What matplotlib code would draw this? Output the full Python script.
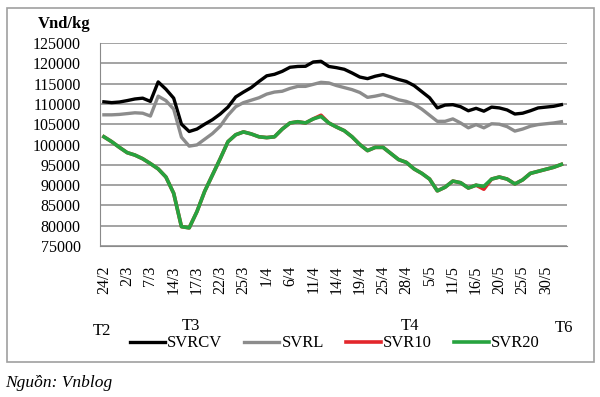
import numpy as np
from matplotlib import pyplot as plt
from matplotlib.patches import Rectangle

plt.rcParams['font.family'] = ['Liberation Serif', 'DejaVu Serif']

# tick labels every third trading day
tick_labels = ['24/2', '2/3', '7/3', '14/3', '17/3', '22/3', '25/3', '1/4', '6/4', '11/4',
               '14/4', '19/4', '25/4', '28/4', '5/5', '11/5', '16/5', '20/5', '25/5', '30/5']

svrcv = [110500, 110300, 110450, 110800, 111200, 111400, 110600, 115400, 113600, 111400,
         105000, 103200, 103800, 105000, 106100, 107500, 109200, 111700, 112900, 114000,
         115500, 116900, 117270, 118000, 119000, 119200, 119240, 120300, 120470, 119200,
         118900, 118500, 117600, 116600, 116200, 116800, 117200, 116600, 116000, 115500,
         114500, 113000, 111500, 109000, 109700, 109800, 109300, 108300, 108900, 108200,
         109200, 109000, 108500, 107500, 107700, 108300, 109000, 109200, 109400, 109800]

svrl = [107300, 107300, 107400, 107600, 107800, 107700, 107000, 111900, 110800, 108700,
        101800, 99600, 99900, 101300, 102700, 104500, 107200, 109300, 110300, 110900,
        111500, 112400, 112900, 113100, 113800, 114300, 114300, 114800, 115300, 115150,
        114500, 114000, 113500, 112800, 111600, 111900, 112300, 111700, 111000, 110600,
        109900, 108700, 107200, 105700, 105700, 106300, 105300, 104100, 104900, 104100,
        105100, 105000, 104400, 103300, 103800, 104500, 104900, 105100, 105300, 105600]

svr20 = [101900, 100700, 99300, 98000, 97400, 96500, 95300, 94000, 92000, 88000,
         79800, 79500, 83500, 88500, 92500, 96500, 100700, 102400, 103100, 102600,
         101900, 101700, 101900, 103800, 105300, 105600, 105300, 106300, 106900, 105300,
         104300, 103400, 101900, 100000, 98500, 99300, 99300, 97800, 96300, 95600,
         94000, 92900, 91500, 88600, 89500, 91000, 90600, 89300, 90000, 89700,
         91500, 92000, 91500, 90300, 91300, 92900, 93400, 93900, 94400, 95100]

svr10 = list(svr20)
svr10[28] = 107200
svr10[49] = 89000

x = np.arange(len(svrcv))

fig = plt.figure(figsize=(6, 3.97), dpi=100)
ax = fig.add_axes([0.1667, 0.380, 0.778, 0.512])

ax.plot(x, svrcv, color='black', lw=2.4, label='SVRCV', zorder=3)
ax.plot(x, svrl, color='#8c8c8c', lw=2.4, label='SVRL', zorder=3)
ax.plot(x, svr10, color='#e3262b', lw=2.6, label='SVR10', zorder=3)
ax.plot(x, svr20, color='#27a33f', lw=2.6, label='SVR20', zorder=4)

ax.set_ylim(75000, 125000)
ax.set_yticks(np.arange(75000, 125001, 5000))
ax.set_xlim(-0.5, len(x) - 0.3)
ax.set_xticks(np.arange(0, 3 * len(tick_labels), 3))
ax.set_xticklabels(tick_labels, rotation=90, fontsize=11.5)
ax.tick_params(axis='y', length=0, pad=14, labelsize=11.5)
ax.tick_params(axis='x', length=0, pad=14)
ax.grid(axis='y', color='#8a8a8a', lw=1.1)
ax.set_axisbelow(True)
for s in ['top', 'right']:
    ax.spines[s].set_visible(False)
ax.spines['left'].set_color('#8a8a8a')
ax.spines['bottom'].set_color('#8a8a8a')

fig.text(0.063, 0.94, 'Vnd/kg', fontsize=12, fontweight='bold', va='center')
fig.text(0.17, 0.165, 'T2', fontsize=12, ha='center', va='center')
fig.text(0.318, 0.178, 'T3', fontsize=12, ha='center', va='center')
fig.text(0.683, 0.178, 'T4', fontsize=12, ha='center', va='center')
fig.text(0.94, 0.175, 'T6', fontsize=12, ha='center', va='center')

fig.legend(loc='center', bbox_to_anchor=(0.558, 0.135), ncol=4, frameon=False,
           fontsize=12, handlelength=2.1, handletextpad=0.15, columnspacing=1.3)

fig.patches.append(Rectangle((0.012, 0.088), 0.978, 0.893, transform=fig.transFigure,
                             fill=False, edgecolor='#a0a0a0', lw=1.2))
fig.text(0.008, 0.035, 'Nguồn: Vnblog', fontsize=12.5, style='italic', va='center')

plt.savefig('out.png')
